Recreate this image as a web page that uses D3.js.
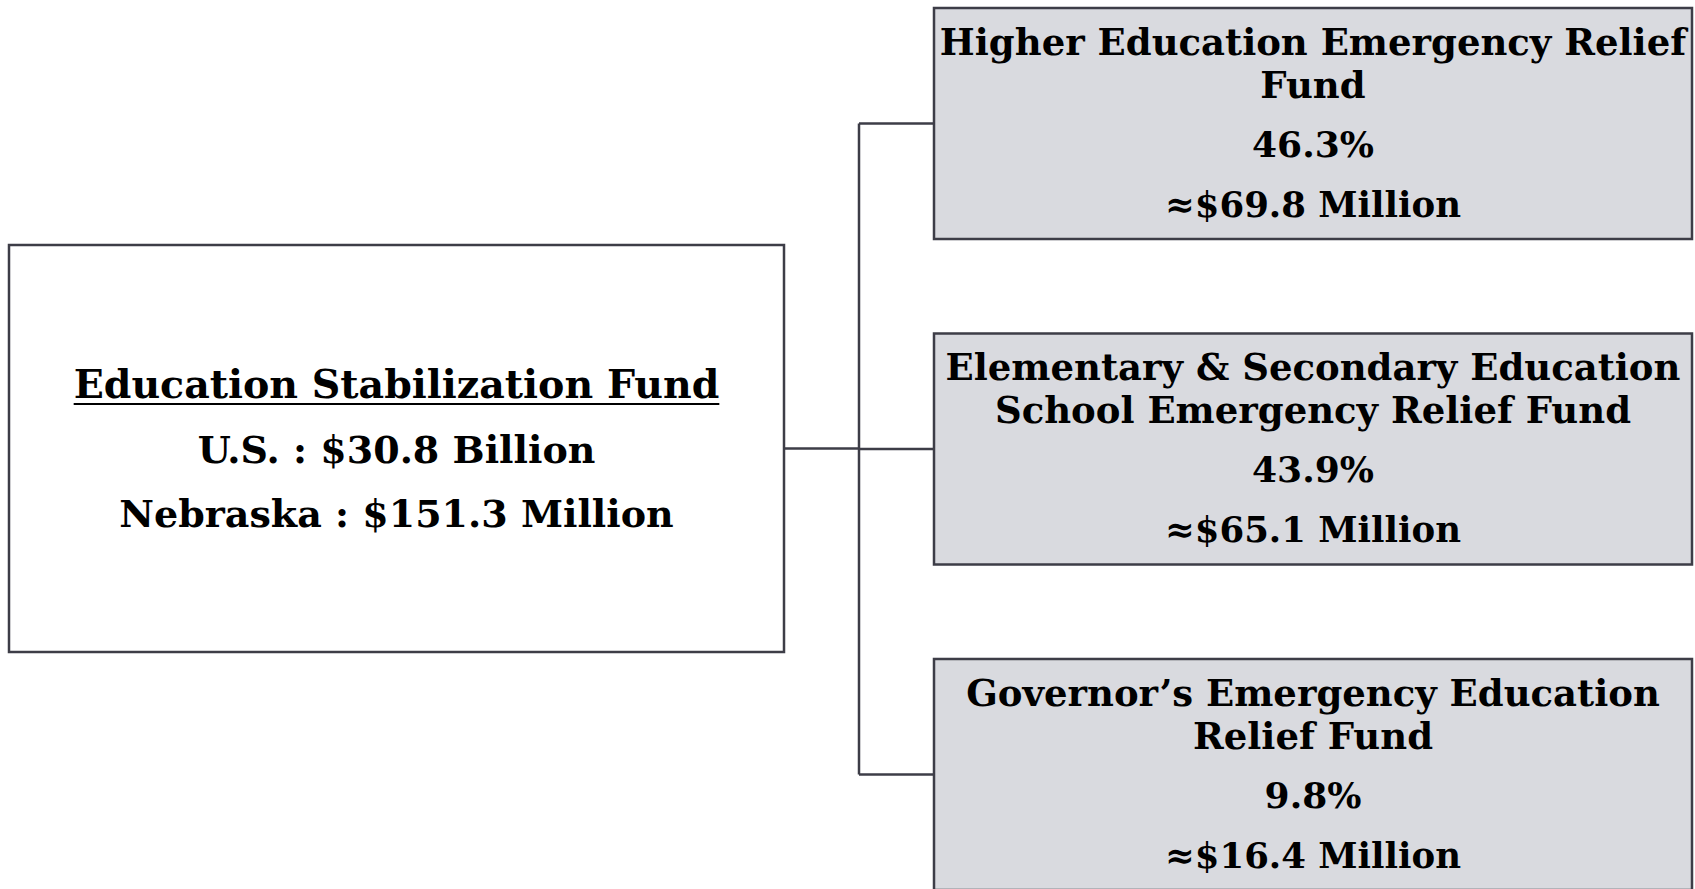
<!DOCTYPE html>
<html>
<head>
<meta charset="utf-8">
<script src="https://cdn.jsdelivr.net/npm/d3@7"></script>
<style>
  html, body { margin: 0; padding: 0; background: #ffffff; }
  svg { display: block; }
  text { font-family: "DejaVu Serif", "Liberation Serif", serif; font-weight: bold; fill: #000; }
</style>
</head>
<body>
<svg id="chart" width="1695" height="889"></svg>
<script>
// ---- data ----
const rootTitle = "Education Stabilization Fund";
const rootLines = ["U.S. : $30.8 Billion", "Nebraska : $151.3 Million"];
const childNames = [
  ["Higher Education Emergency Relief", "Fund"],
  ["Elementary & Secondary Education", "School Emergency Relief Fund"],
  ["Governor\u2019s Emergency Education", "Relief Fund"]
];
const childPercents = ["46.3%", "43.9%", "9.8%"];
const childAmounts = ["\u2248$69.8 Million", "\u2248$65.1 Million", "\u2248$16.4 Million"];

// ---- layout ----
const stroke = "#3d3d47";
const boxFill = "#d9dadf";
const svg = d3.select("#chart");

const root = { x0: 9, x1: 784, y0: 245, y1: 652 };
const child = { x0: 934, x1: 1692 };
const busX = 859;

const y = d3.scaleBand()
  .domain(d3.range(childNames.length))
  .range([8, 890])
  .paddingInner(0.2903)
  .paddingOuter(0);

const rootCy = (root.y0 + root.y1) / 2;

// connectors
const g = svg.append("g");
g.append("line")
  .attr("x1", root.x1).attr("x2", busX)
  .attr("y1", rootCy).attr("y2", rootCy)
  .attr("stroke", stroke).attr("stroke-width", 2.5);
const cys = childNames.map((d, i) => y(i) + y.bandwidth() / 2);
g.append("line")
  .attr("x1", busX).attr("x2", busX)
  .attr("y1", d3.min(cys)).attr("y2", d3.max(cys))
  .attr("stroke", stroke).attr("stroke-width", 2.5);
g.selectAll("line.branch").data(cys).join("line")
  .attr("class", "branch")
  .attr("x1", busX).attr("x2", child.x0)
  .attr("y1", d => d).attr("y2", d => d)
  .attr("stroke", stroke).attr("stroke-width", 2.5);

// root box
svg.append("rect")
  .attr("x", root.x0).attr("y", root.y0)
  .attr("width", root.x1 - root.x0).attr("height", root.y1 - root.y0)
  .attr("fill", "#ffffff").attr("stroke", stroke).attr("stroke-width", 2.5);

const rcx = (root.x0 + root.x1) / 2;
const t = svg.append("text")
  .attr("x", rcx).attr("y", 398)
  .attr("text-anchor", "middle")
  .style("font-size", "39.5px")
  .text(rootTitle);
const tw = t.node().getComputedTextLength();
svg.append("line")
  .attr("x1", rcx - tw / 2).attr("x2", rcx + tw / 2)
  .attr("y1", 404).attr("y2", 404)
  .attr("stroke", "#000").attr("stroke-width", 2);
svg.selectAll("text.rl").data(rootLines).join("text")
  .attr("class", "rl")
  .attr("x", rcx).attr("y", (d, i) => 463 + i * 64)
  .attr("text-anchor", "middle")
  .style("font-size", "38px")
  .text(d => d);

// child boxes
const ccx = (child.x0 + child.x1) / 2;
const cg = svg.selectAll("g.child").data(childNames).join("g")
  .attr("class", "child")
  .attr("transform", (d, i) => `translate(0,${y(i)})`);
cg.append("rect")
  .attr("x", child.x0).attr("y", 0)
  .attr("width", child.x1 - child.x0).attr("height", y.bandwidth())
  .attr("fill", boxFill).attr("stroke", stroke).attr("stroke-width", 2.5);
cg.each(function(d, i) {
  const s = d3.select(this);
  const lines = [
    { text: d[0], dy: 47, fs: 37 },
    { text: d[1], dy: 90, fs: 37 },
    { text: childPercents[i], dy: 149, fs: 36 },
    { text: childAmounts[i], dy: 209, fs: 35.5 }
  ];
  s.selectAll("text").data(lines).join("text")
    .attr("x", ccx).attr("y", l => l.dy)
    .attr("text-anchor", "middle")
    .style("font-size", l => l.fs + "px")
    .text(l => l.text);
});
</script>
</body>
</html>
